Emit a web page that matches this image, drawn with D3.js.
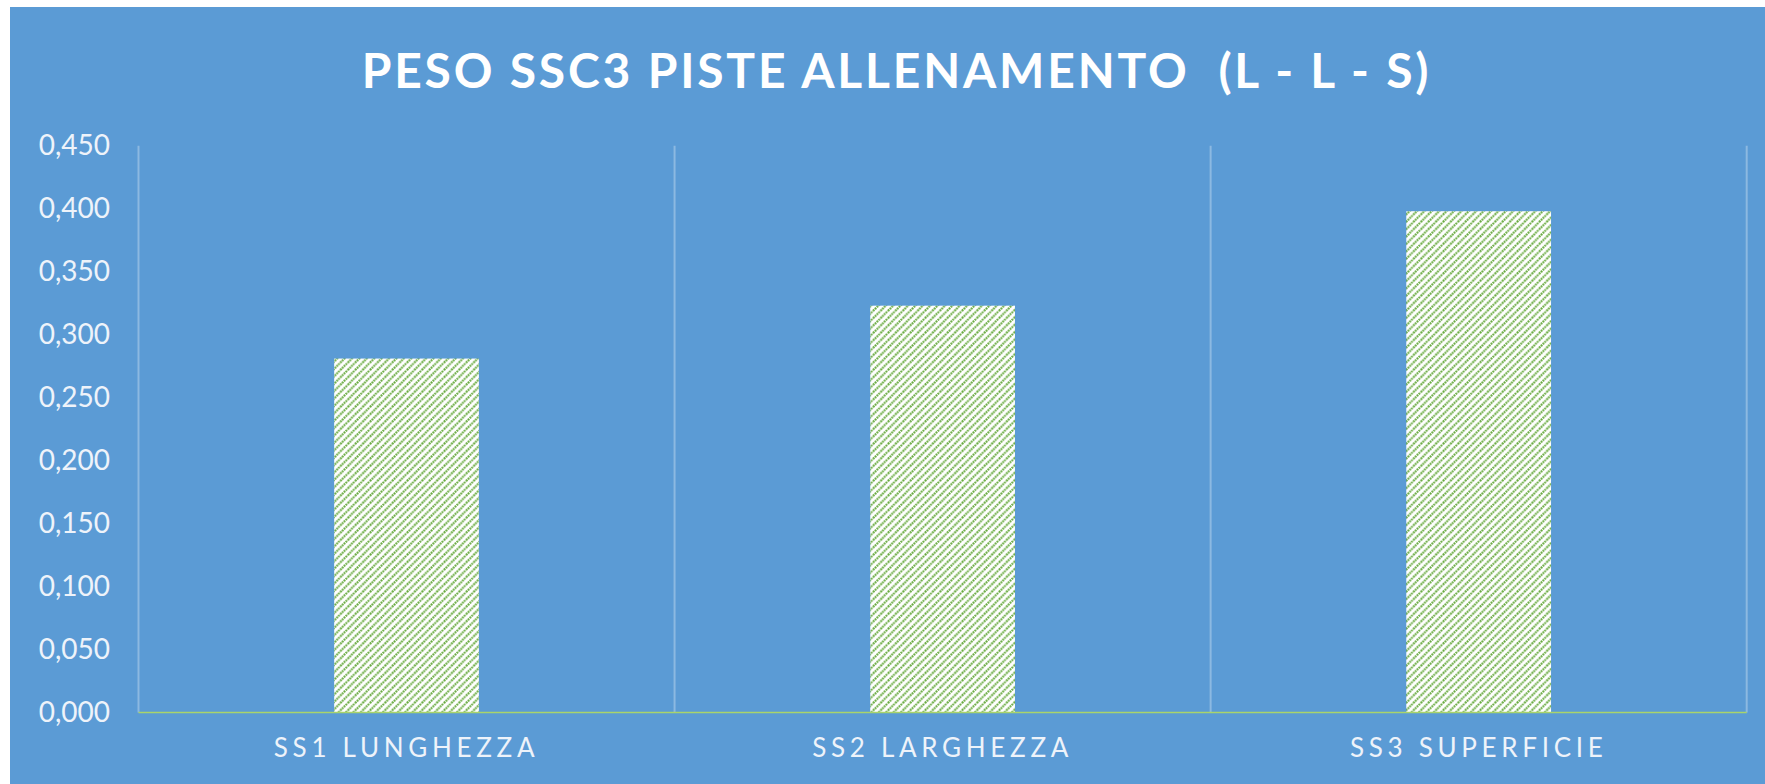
<!DOCTYPE html>
<html>
<head>
<meta charset="utf-8">
<script src="https://cdn.jsdelivr.net/npm/d3@7"></script>
<style>
  html, body { margin: 0; padding: 0; background: #ffffff; }
  svg { display: block; }
</style>
</head>
<body>
<svg id="chart" width="1765" height="784"></svg>
<script>
// ---- data ----
const titleText = "PESO SSC3 PISTE ALLENAMENTO  (L - L - S)";
const categories = ["SS1 LUNGHEZZA", "SS2 LARGHEZZA", "SS3 SUPERFICIE"];
const values = [0.281, 0.323, 0.398];
const yTicks = [0, 0.05, 0.1, 0.15, 0.2, 0.25, 0.3, 0.35, 0.4, 0.45];
const yMax = 0.45;

// ---- layout ----
const W = 1765, H = 784;
const bg = { x: 10, y: 7 };
const plot = { left: 138.5, right: 1746.7, top: 145.7, bottom: 712.5 };

const svg = d3.select("#chart");

// pattern
const defs = svg.append("defs");
const P = 7.4;
const pat = defs.append("pattern")
  .attr("id", "hatch")
  .attr("patternUnits", "userSpaceOnUse")
  .attr("width", P).attr("height", P);
pat.append("rect").attr("width", P).attr("height", P).attr("fill", "#ffffff");
pat.append("path")
  .attr("d", `M0,${P} L${P},0 M${-P/4},${P/4} L${P/4},${-P/4} M${P*3/4},${P*5/4} L${P*5/4},${P*3/4}`)
  .attr("stroke", "#66a93c")
  .attr("stroke-width", 2.2)
  .attr("stroke-dasharray", "1.7 0.8")
  .attr("fill", "none");

// background
svg.append("rect")
  .attr("x", bg.x).attr("y", bg.y)
  .attr("width", W - bg.x).attr("height", H - bg.y)
  .attr("fill", "#5b9bd5");

// scales
const x = d3.scaleBand()
  .domain(categories)
  .range([plot.left, plot.right])
  .paddingInner(0.73)
  .paddingOuter(0.365);

const y = d3.scaleLinear()
  .domain([0, yMax])
  .range([plot.bottom, plot.top]);

const itLocale = d3.formatLocale({ decimal: ",", thousands: ".", grouping: [3], currency: ["", "€"] });
const fmt = itLocale.format(".3f");

// vertical category gridlines (at band boundaries)
const gap = (x.step() - x.bandwidth()) / 2;
const bounds = categories.map(c => x(c) - gap).concat([plot.right]);
svg.append("g")
  .selectAll("line")
  .data(bounds)
  .join("line")
  .attr("x1", d => d).attr("x2", d => d)
  .attr("y1", plot.top).attr("y2", plot.bottom)
  .attr("stroke", "#ffffff")
  .attr("stroke-opacity", 0.3)
  .attr("stroke-width", 2);

// bars
svg.append("g")
  .selectAll("rect")
  .data(values)
  .join("rect")
  .attr("x", (d, i) => x(categories[i]))
  .attr("width", x.bandwidth())
  .attr("y", d => y(d))
  .attr("height", d => y(0) - y(d))
  .attr("fill", "url(#hatch)");

// baseline
svg.append("line")
  .attr("x1", plot.left).attr("x2", plot.right)
  .attr("y1", y(0)).attr("y2", y(0))
  .attr("stroke", "#a9d46b")
  .attr("stroke-width", 1.6);

// y axis
const yAxis = svg.append("g")
  .attr("transform", `translate(${plot.left},0)`)
  .call(d3.axisLeft(y).tickValues(yTicks).tickFormat(fmt).tickSize(0).tickPadding(28.5));
yAxis.select(".domain").remove();
yAxis.selectAll("text")
  .attr("fill", "#eef3fa")
  .style("font-family", "Lato, 'Open Sans', sans-serif")
  .style("font-size", "28px");

// x axis
const xAxis = svg.append("g")
  .attr("transform", `translate(0,${plot.bottom})`)
  .call(d3.axisBottom(x).tickSize(0).tickPadding(26));
xAxis.select(".domain").remove();
xAxis.selectAll("text")
  .attr("fill", "#eef3fa")
  .style("font-family", "Lato, 'Open Sans', sans-serif")
  .style("font-size", "26px")
  .style("letter-spacing", "4.7px");

// title
svg.append("text")
  .attr("x", 896.5)
  .attr("y", 88)
  .attr("text-anchor", "middle")
  .attr("fill", "#ffffff")
  .style("font-family", "Lato, 'Open Sans', sans-serif")
  .style("font-weight", "700")
  .style("font-size", "48px")
  .style("letter-spacing", "2.8px")
  .style("white-space", "pre")
  .text(titleText);
</script>
</body>
</html>
